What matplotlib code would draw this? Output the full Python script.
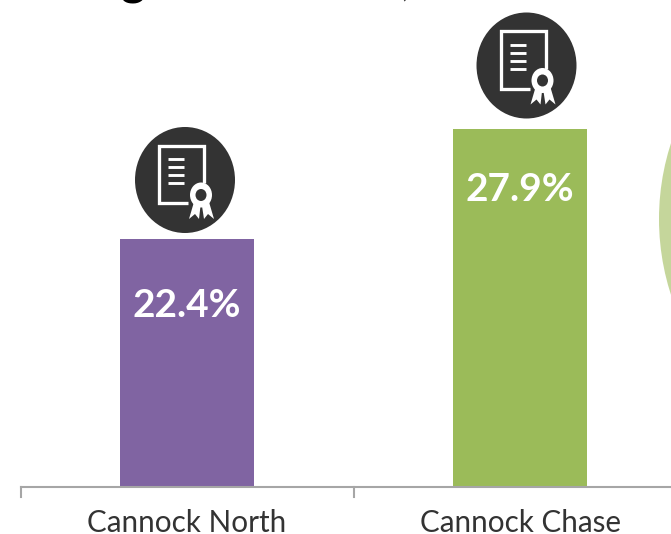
"""
Cannock bars with certificate badges
"""

import matplotlib
matplotlib.use('Agg')
import matplotlib.pyplot as plt
from matplotlib.patches import Ellipse, Polygon
from matplotlib.transforms import Affine2D

WIDTH, HEIGHT = 671, 534
BASELINE_PX = 487

categories = ["Cannock North", "Cannock Chase"]
values = [22.4, 27.9]
value_labels = ["22.4%", "27.9%"]
bar_colors = ["#8064a2", "#9bbb59"]

# label height on the value scale, labels do not sit at a fixed distance from the bar top
label_levels = [19.1, 24.9]

# badge centres, pixels from top left of the picture
badge_x = [185, 526.5]
badge_y = [180, 65.5]

DARK = "#333333"


def draw_badge(ax, cx, cy, rx, ry):
    """Certificate icon, shapes given in pixels around the badge centre"""
    tr = Affine2D().scale(1, -1).translate(cx, HEIGHT - cy)

    def add_line(xs, ys, lw=3.3):
        ax.plot(xs, ys, color="white", lw=lw * 0.72, transform=tr,
                solid_joinstyle="miter", solid_capstyle="butt", clip_on=False)

    ax.add_patch(Ellipse((0, 0), 2 * rx, 2 * ry, color=DARK, lw=0, transform=tr))
    add_line([3, -26, -26, 19, 19], [23, 23, -34.5, -34.5, 3])
    for y in [-21, -13, -5, 3]:
        add_line([-17, -1], [y, y], lw=2.9)
    ax.add_patch(Polygon([(9, 22), (4, 39), (10, 34), (14, 39), (15.5, 26)],
                         color="white", lw=0, transform=tr))
    ax.add_patch(Polygon([(17, 26), (19, 39), (23, 34), (29, 39), (24, 22)],
                         color="white", lw=0, transform=tr))
    ax.add_patch(Ellipse((16, 15), 22, 25, color="white", lw=0, transform=tr))
    ax.add_patch(Ellipse((16, 15), 11, 12, color=DARK, lw=0, transform=tr))


fig = plt.figure(figsize=(WIDTH / 100, HEIGHT / 100), dpi=100)
ax = fig.add_axes([0, 0, 1, 1])
ax.axis("off")

# one category is 333 px wide, one percent is 20 px tall, axis starts at 10
ax.set_xlim(-187 / 333, (WIDTH - 187) / 333)
ax.set_ylim(10 - (HEIGHT - BASELINE_PX) / 20, 10 + BASELINE_PX / 20)

positions = list(range(len(categories)))
ax.bar(positions, [v - 10 for v in values], bottom=10, width=0.402,
       color=bar_colors, linewidth=0)

# axis line with ticks between categories
for x in [-0.5, 0.5, 1.5]:
    ax.plot([x, x], [10, 9.5], color="#a6a6a6", lw=1.5)
ax.plot([-0.5, 1.5], [10, 10], color="#a6a6a6", lw=1.5)

for pos, name, label, level in zip(positions, categories, value_labels, label_levels):
    ax.text(pos, 8.2, name, ha="center", va="center", fontsize=21.3,
            family="Lato", color="#333333")
    ax.text(pos, level, label, ha="center", va="center", fontsize=28,
            family="Lato", fontweight="bold", color="white")

pixel = Affine2D().scale(1, -1).translate(0, HEIGHT)
for cx, cy in zip(badge_x, badge_y):
    draw_badge(ax, cx, cy, 50, 53)

# edge of the pale circle cut off on the right
ax.add_patch(Ellipse((905, 219), 492, 492, color="#c5d69b", lw=0, transform=pixel))

# title is cropped away, only descender and comma remain
ax.text(133, -5.5, "g", ha="center", va="baseline", fontsize=34, family="Lato",
        fontweight="bold", color="black", transform=pixel)
ax.text(405, -3, ",", ha="center", va="baseline", fontsize=24, family="Lato",
        color="#404040", transform=pixel)

fig.savefig("out.png", dpi=100)
plt.close(fig)
